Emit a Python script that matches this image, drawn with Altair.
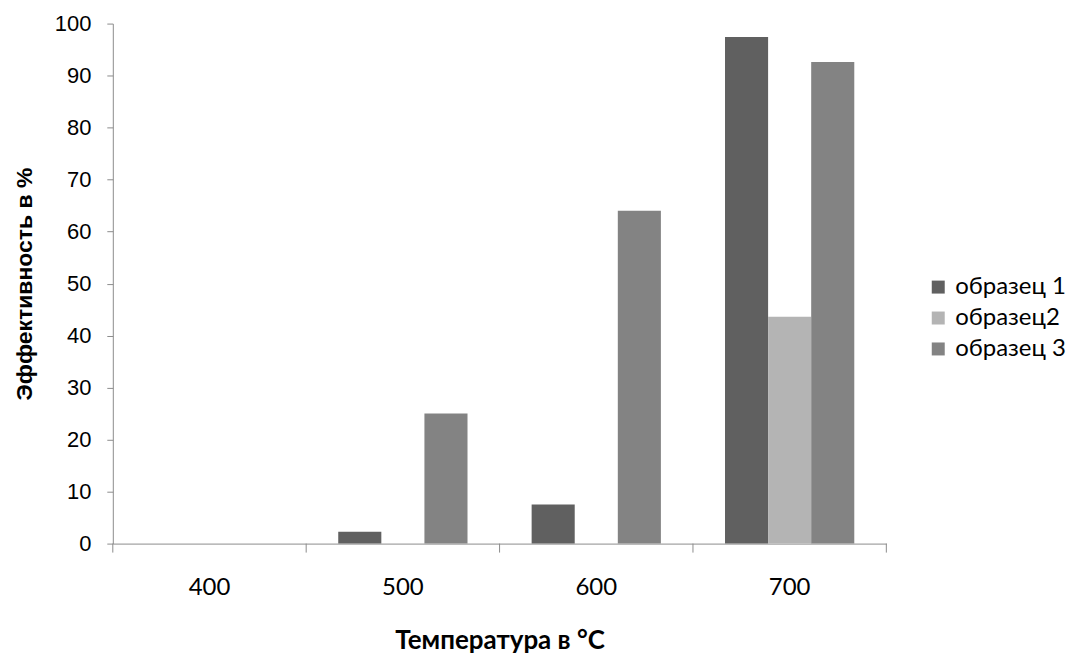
import altair as alt
import pandas as pd

categories = ["400", "500", "600", "700"]
series_names = ["образец 1", "образец2", "образец 3"]
s1 = [0, 2.3, 7.5, 97.4]
s2 = [0, 0, 0, 43.6]
s3 = [0, 25.0, 64.0, 92.6]
colors = ["#606060", "#b4b4b4", "#838383"]

rows = []
for name, vals in zip(series_names, [s1, s2, s3]):
    for c, v in zip(categories, vals):
        rows.append({"cat": c, "series": name, "value": v})
df = pd.DataFrame(rows)
ticks_df = pd.DataFrame({"cat": categories})
end_df = pd.DataFrame({"cat": [categories[-1]]})

FONT = "Lato"
YFONT = "Liberation Sans"
W, H = 775, 521

xscale = alt.Scale(domain=categories, paddingInner=0, paddingOuter=0)

bars = alt.Chart(df).mark_bar().encode(
    x=alt.X("cat:N", scale=xscale, sort=categories,
            axis=alt.Axis(title="Температура в °C", labelAngle=0, ticks=False, tickSize=0,
                          labelPadding=32, labelFontSize=24, titleFontSize=26,
                          titleFontWeight="bold", titlePadding=28, domainColor="#8c8c8c",
                          labelColor="#000", titleColor="#000", labelFont=FONT, titleFont=FONT)),
    xOffset=alt.XOffset("series:N", sort=series_names,
                        scale=alt.Scale(domain=series_names, paddingInner=0, paddingOuter=0.744)),
    y=alt.Y("value:Q", scale=alt.Scale(domain=[0, 100], nice=False),
            axis=alt.Axis(title="Эффективность в %", values=list(range(0, 101, 10)), grid=False,
                          tickSize=6, tickColor="#8c8c8c", domainColor="#8c8c8c",
                          labelPadding=16, labelFontSize=22, titleFontSize=23,
                          titleFontWeight="bold", titlePadding=18,
                          labelColor="#000", titleColor="#000", labelFont=YFONT, titleFont=YFONT)),
    color=alt.Color("series:N", sort=series_names,
                    scale=alt.Scale(domain=series_names, range=colors),
                    legend=alt.Legend(title=None, orient="none", legendX=815, legendY=252,
                                      symbolType="square", symbolSize=169, symbolStrokeWidth=0,
                                      labelFontSize=24, labelFont=FONT, labelColor="#000",
                                      rowPadding=7, labelOffset=5, padding=0)),
)

tick_rules = alt.Chart(ticks_df).mark_rule(color="#8c8c8c", strokeWidth=1).encode(
    x=alt.X("cat:N", bandPosition=0, scale=xscale, sort=categories),
    y=alt.value(H), y2=alt.value(H + 9),
)
end_rule = alt.Chart(end_df).mark_rule(color="#8c8c8c", strokeWidth=1).encode(
    x=alt.X("cat:N", bandPosition=1, scale=xscale, sort=categories),
    y=alt.value(H), y2=alt.value(H + 9),
)

chart = alt.layer(bars, tick_rules, end_rule).properties(
    width=W, height=H, background="white",
    padding={"left": 5, "top": 4, "right": 0, "bottom": 0},
).configure_view(stroke=None)

chart.save("out.html", embed_options={"renderer": "svg", "actions": False})
